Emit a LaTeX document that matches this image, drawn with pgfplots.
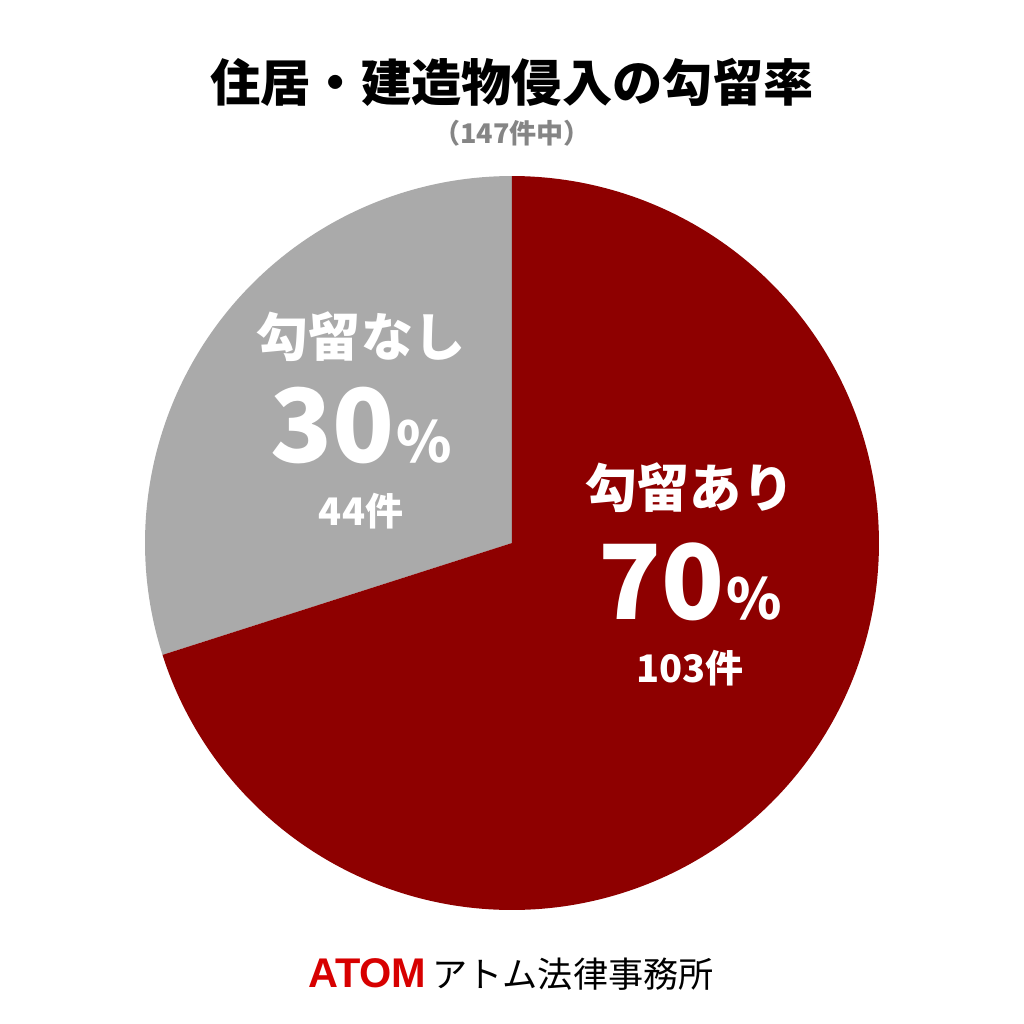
\documentclass[border=0pt]{standalone}
\usepackage{pgfplots}
\usepackage{pgfplotstable}
\pgfplotsset{compat=1.18}
\usepackage{fontspec}
\setmainfont{Noto Sans CJK JP}
\newfontfamily\atomfont{Liberation Sans}
\definecolor{piered}{HTML}{8E0000}
\definecolor{piegray}{HTML}{AAAAAA}
\definecolor{atomred}{HTML}{D70000}
\definecolor{subgray}{HTML}{858585}
\pgfplotstableread{
label count
ari 103
nashi 44
}\piedata
\pgfplotstablegetelem{0}{count}\of\piedata\let\ari\pgfplotsretval
\pgfplotstablegetelem{1}{count}\of\piedata\let\nashi\pgfplotsretval
\pgfmathsetmacro\total{\ari+\nashi}
\pgfmathsetmacro\splitang{90+360*\nashi/\total}
\begin{document}%
\begin{tikzpicture}
\begin{axis}[
  scale only axis, width=10.24cm, height=10.24cm,
  xmin=-1.3951, xmax=1.3951, ymin=-1.3106, ymax=1.4796,
  hide axis, clip=false,
]
\fill[white] (rel axis cs:0,0) rectangle (rel axis cs:1,1);
\addplot[fill=piegray, draw=none, domain=90:\splitang, samples=120, variable=\t]
  ({cos(\t)},{sin(\t)}) -- (axis cs:0,0) -- cycle;
\addplot[fill=piered, draw=none, domain=\splitang:450, samples=240, variable=\t]
  ({cos(\t)},{sin(\t)}) -- (axis cs:0,0) -- cycle;
% title
\node[anchor=center] at (axis cs:0,1.2561) {\fontsize{14.3pt}{16pt}\selectfont\bfseries 住居・建造物侵入の勾留率};
\node[anchor=center, text=subgray] at (axis cs:0,1.1172) {\fontsize{7.7pt}{9pt}\selectfont\bfseries （147件中）};
% gray labels
\node[anchor=center, text=white] at (axis cs:-0.4114,0.5613) {\fontsize{14.8pt}{16pt}\selectfont\bfseries 勾留なし};
\node[anchor=center, text=white] at (axis cs:-0.4114,0.3215) {\bfseries\fontsize{29pt}{31pt}\selectfont 30\kern0.5pt\fontsize{16pt}{18pt}\selectfont\%};
\node[anchor=center, text=white] at (axis cs:-0.4114,0.0872) {\fontsize{10.8pt}{12pt}\selectfont\bfseries 44件};
% red labels
\node[anchor=center, text=white] at (axis cs:0.485,0.1499) {\fontsize{14.8pt}{16pt}\selectfont\bfseries 勾留あり};
\node[anchor=center, text=white] at (axis cs:0.485,-0.1063) {\bfseries\fontsize{29.5pt}{32pt}\selectfont 70\kern0.5pt\fontsize{16pt}{18pt}\selectfont\%};
\node[anchor=center, text=white] at (axis cs:0.485,-0.3406) {\fontsize{10.8pt}{12pt}\selectfont\bfseries 103件};
% footer
\node[anchor=center] at (axis cs:-0.003,-1.1744) {{\atomfont\bfseries\fontsize{11.8pt}{13pt}\selectfont\color{atomred}ATOM}\hspace{0.06cm}{\fontsize{10pt}{12pt}\selectfont アトム法律事務所}};
\end{axis}
\end{tikzpicture}%
\end{document}
